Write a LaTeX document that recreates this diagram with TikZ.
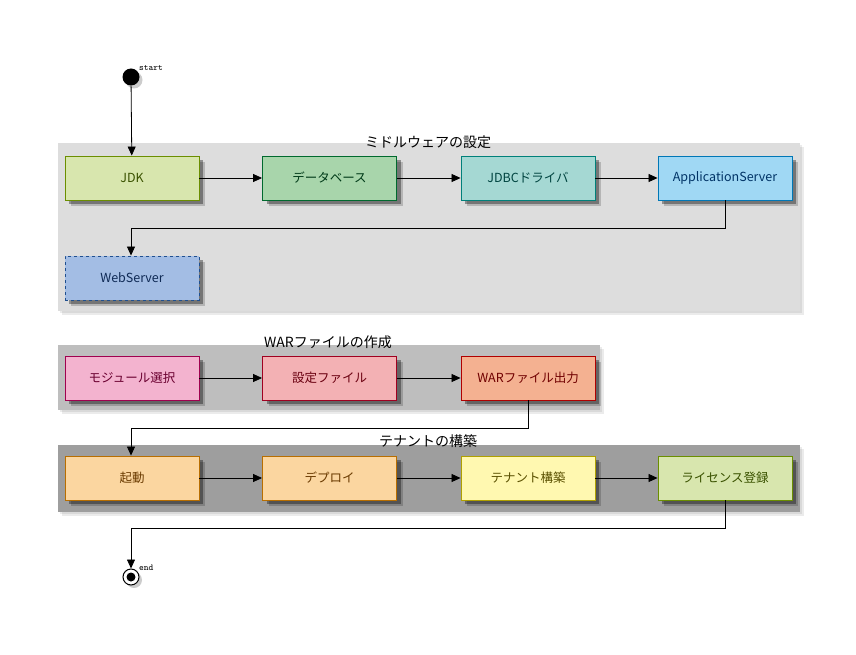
\documentclass[tikz,border=0pt]{standalone}
\usepackage{fontspec}
\setmainfont{Noto Sans CJK JP}
\usetikzlibrary{arrows.meta,shadows}
\definecolor{gA}{HTML}{DDDDDD}
\definecolor{gB}{HTML}{BEBEBE}
\definecolor{gC}{HTML}{9E9E9E}
\definecolor{fJdk}{HTML}{D8E6AE}\definecolor{dJdk}{HTML}{6B8E00}\definecolor{tJdk}{HTML}{3A5200}
\definecolor{fDb}{HTML}{A8D5AB}\definecolor{dDb}{HTML}{00692E}\definecolor{tDb}{HTML}{003A18}
\definecolor{fJd}{HTML}{A5D8D3}\definecolor{dJd}{HTML}{00807A}\definecolor{tJd}{HTML}{004440}
\definecolor{fAp}{HTML}{A0D8F4}\definecolor{dAp}{HTML}{0077B6}\definecolor{tAp}{HTML}{003366}
\definecolor{fWb}{HTML}{A3BDE4}\definecolor{dWb}{HTML}{1F4F8F}\definecolor{tWb}{HTML}{0F2A55}
\definecolor{fMo}{HTML}{F3B3CF}\definecolor{dMo}{HTML}{A0004F}\definecolor{tMo}{HTML}{6A0030}
\definecolor{fSt}{HTML}{F3B1B4}\definecolor{dSt}{HTML}{A00020}\definecolor{tSt}{HTML}{6A0010}
\definecolor{fWa}{HTML}{F4B191}\definecolor{dWa}{HTML}{B00000}\definecolor{tWa}{HTML}{700000}
\definecolor{fKi}{HTML}{FBD6A0}\definecolor{dKi}{HTML}{B86E00}\definecolor{tKi}{HTML}{6A3A00}
\definecolor{fTe}{HTML}{FFF8B0}\definecolor{dTe}{HTML}{B0A000}\definecolor{tTe}{HTML}{5A5000}
\tikzset{
  box/.style={draw, line width=0.9pt, minimum width=134pt, minimum height=44pt, inner sep=0pt,
    font=\fontsize{12.5}{14}\selectfont,
    general shadow={fill=black, opacity=0.18, shadow xshift=6pt, shadow yshift=-6pt},
    general shadow={fill=black, opacity=0.35, shadow xshift=4pt, shadow yshift=-4pt}},
  grp/.style={general shadow={fill=black, opacity=0.08, shadow xshift=4pt, shadow yshift=-4pt},
    general shadow={fill=black, opacity=0.08, shadow xshift=2pt, shadow yshift=-2pt}},
  gtitle/.style={font=\fontsize{14}{16}\selectfont, inner sep=0pt},
  arr/.style={line width=0.8pt, -{Triangle[length=9pt,width=8pt]}},
  small/.style={font=\ttfamily\fontsize{9}{10}\selectfont, inner sep=0pt, anchor=west}
}
\begin{document}
\begin{tikzpicture}[x=1pt,y=-1pt]
\useasboundingbox (0,0) rectangle (856,655);
% group backgrounds
\fill[gA, grp] (58,143) rectangle (800,311);
\fill[gB, grp] (58,345) rectangle (600,410);
\fill[gC, grp] (58,445) rectangle (800,512);
\node[gtitle] (t1) at (428,142) {ミドルウェアの設定};
\node[gtitle] (t2) at (328,342) {WARファイルの作成};
\node[gtitle] (t3) at (428,441) {テナントの構築};
% start / end
\node[circle, fill=black, minimum size=17pt, inner sep=0pt,
  drop shadow={opacity=0.4, shadow xshift=3pt, shadow yshift=-3pt}] (start) at (131,77) {};
\node[small] (startl) at (139,68) {start};
\node[circle, draw=black, line width=1pt, fill=white, minimum size=16pt, inner sep=0pt,
  drop shadow={opacity=0.4, shadow xshift=3pt, shadow yshift=-3pt}] (end) at (131,577) {};
\node[circle, fill=black, minimum size=9pt, inner sep=0pt] (endin) at (end.center) {};
\node[small] (endl) at (139,568) {end};
% group 1
\node[box, fill=fJdk, draw=dJdk, text=tJdk] (jdk) at (132,178) {JDK};
\node[box, fill=fDb, draw=dDb, text=tDb] (db) at (329.5,178) {データベース};
\node[box, fill=fJd, draw=dJd, text=tJd] (jdbc) at (528,178) {JDBCドライバ};
\node[box, fill=fAp, draw=dAp, text=tAp] (ap) at (725,178) {ApplicationServer};
\node[box, fill=fWb, draw=dWb, text=tWb, dashed] (web) at (132,278) {WebServer};
% group 2
\node[box, fill=fMo, draw=dMo, text=tMo] (mod) at (132,378) {モジュール選択};
\node[box, fill=fSt, draw=dSt, text=tSt] (cfg) at (329.5,378) {設定ファイル};
\node[box, fill=fWa, draw=dWa, text=tWa] (war) at (528,378) {WARファイル出力};
% group 3
\node[box, fill=fKi, draw=dKi, text=tKi] (boot) at (132,478) {起動};
\node[box, fill=fKi, draw=dKi, text=tKi] (dep) at (329.5,478) {デプロイ};
\node[box, fill=fTe, draw=dTe, text=tTe] (ten) at (528,478) {テナント構築};
\node[box, fill=fJdk, draw=dJdk, text=tJdk] (lic) at (725,478) {ライセンス登録};
% connectors
\coordinate (c1) at (131,228);
\coordinate (c2) at (131,428);
\coordinate (c3) at (131,528);
\draw[arr] (start) -- (jdk);
\draw[arr] (jdk) -- (db);
\draw[arr] (db) -- (jdbc);
\draw[arr] (jdbc) -- (ap);
\draw[arr] (ap.south) |- (c1) -- (web.north -| c1);
\draw[arr] (mod) -- (cfg);
\draw[arr] (cfg) -- (war);
\draw[arr] (war.south) |- (c2) -- (boot.north -| c2);
\draw[arr] (boot) -- (dep);
\draw[arr] (dep) -- (ten);
\draw[arr] (ten) -- (lic);
\draw[arr] (lic.south) |- (c3) -- (end.north);
\end{tikzpicture}
\end{document}
